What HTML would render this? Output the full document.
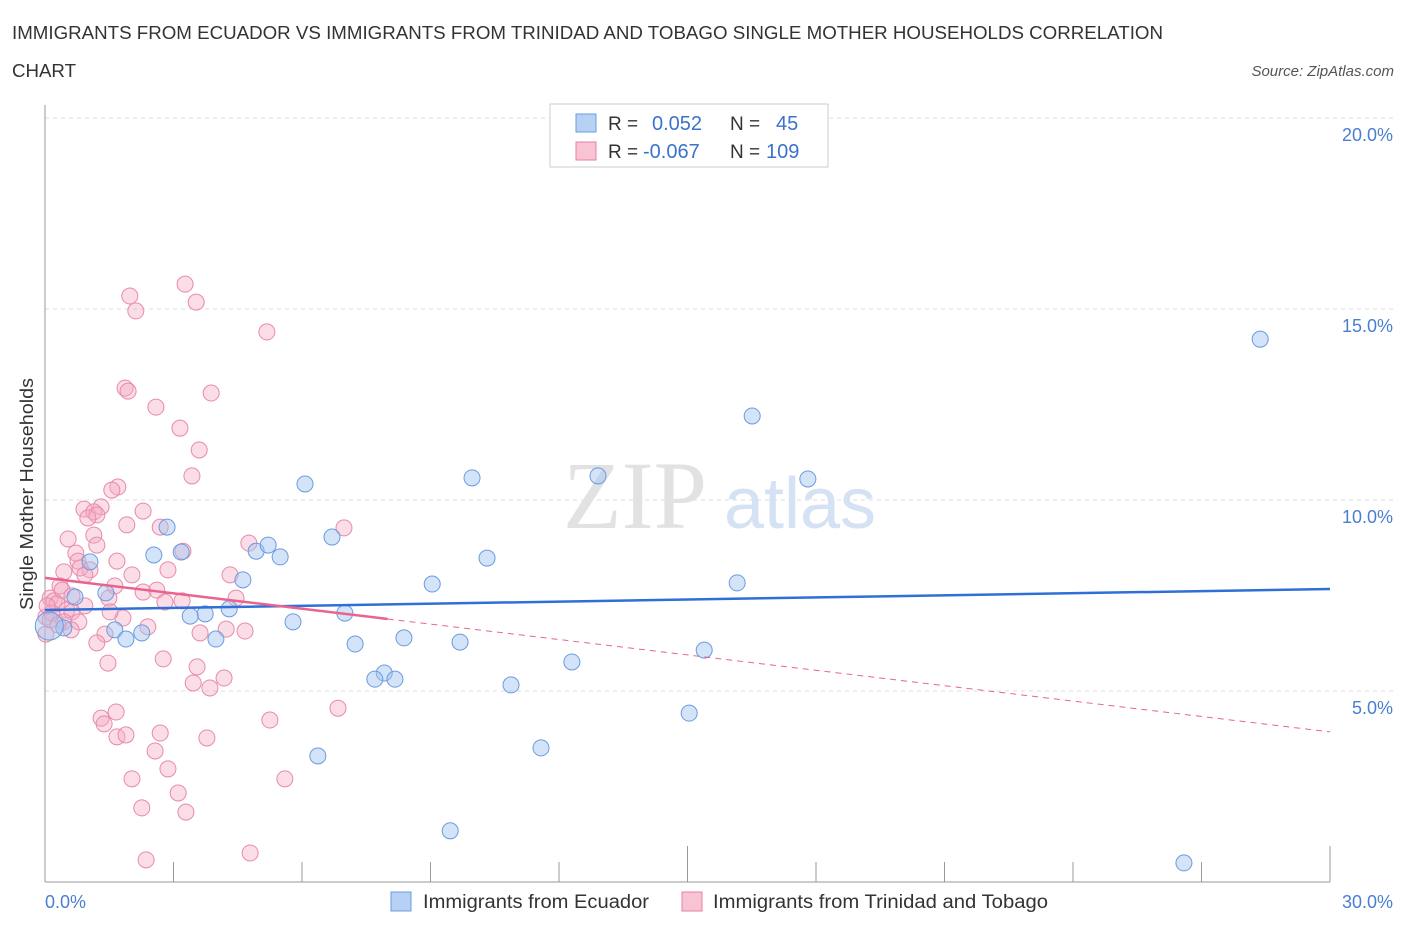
<!DOCTYPE html>
<html><head><meta charset="utf-8"><style>
body{margin:0;background:#fff;font-family:"Liberation Sans",sans-serif;}
</style></head><body>
<svg width="1406" height="930" viewBox="0 0 1406 930" xmlns="http://www.w3.org/2000/svg">
<text x="12" y="39" font-size="18" fill="#333" textLength="1151" lengthAdjust="spacingAndGlyphs">IMMIGRANTS FROM ECUADOR VS IMMIGRANTS FROM TRINIDAD AND TOBAGO SINGLE MOTHER HOUSEHOLDS CORRELATION</text>
<text x="12" y="77" font-size="18" fill="#333" textLength="64" lengthAdjust="spacingAndGlyphs">CHART</text>
<text x="1394" y="76" font-size="15" fill="#555" font-style="italic" text-anchor="end">Source: ZipAtlas.com</text>
<g id="grid"></g>
<text x="635" y="528" font-size="96" fill="#e2e2e2" font-family="Liberation Serif" text-anchor="middle">ZIP</text>
<text x="800" y="528" font-size="72" fill="#d4e2f4" text-anchor="middle">atlas</text>
<g id="marks"></g>
<text x="33" y="494" font-size="18" fill="#333" text-anchor="middle" textLength="232" lengthAdjust="spacingAndGlyphs" transform="rotate(-90 33 494)">Single Mother Households</text>
<g>
<rect x="550" y="104" width="278" height="63" fill="#fff" stroke="#ccc"/>
<rect x="576" y="114" width="20" height="18" fill="#b7d1f5" stroke="#6a9be0"/>
<text x="608" y="130" font-size="19" fill="#333">R =</text><text x="652" y="130" font-size="20" fill="#3b73cc">0.052</text>
<text x="730" y="130" font-size="19" fill="#333">N =</text><text x="776" y="130" font-size="20" fill="#3b73cc">45</text>
<rect x="576" y="142" width="20" height="18" fill="#f8c4d4" stroke="#e87fa3"/>
<text x="608" y="158" font-size="19" fill="#333">R =</text><text x="643" y="158" font-size="20" fill="#3b73cc">-0.067</text>
<text x="730" y="158" font-size="19" fill="#333">N =</text><text x="766" y="158" font-size="20" fill="#3b73cc">109</text>
</g>
<g>
<rect x="391" y="892" width="20" height="19" fill="#b7d1f5" stroke="#6a9be0"/>
<text x="423" y="908" font-size="19" fill="#333" textLength="226" lengthAdjust="spacingAndGlyphs">Immigrants from Ecuador</text>
<rect x="682" y="892" width="20" height="19" fill="#f8c4d4" stroke="#e87fa3"/>
<text x="713" y="908" font-size="19" fill="#333" textLength="335" lengthAdjust="spacingAndGlyphs">Immigrants from Trinidad and Tobago</text>
</g>
</svg>
<script>
const xTicks=[0,30];
const yTicks=[5,10,15,20];
const blueX=[28.37,16.51,17.81,12.91,9.97,6.07,2.85,6.70,3.18,2.54,4.93,5.21,5.49,10.32,9.04,16.16,4.62,1.42,0.70,7.00,3.74,3.39,4.30,5.79,1.05,1.63,2.26,1.89,3.99,8.38,7.24,9.69,0.44,15.39,12.30,7.92,7.70,8.17,10.88,15.04,11.58,6.37,9.46,26.59,0.1];
const blueY=[14.21,12.20,10.55,10.63,10.58,10.42,9.29,9.03,8.64,8.56,8.66,8.82,8.51,8.48,7.80,7.83,7.91,7.57,7.46,7.04,7.02,6.96,7.15,6.81,8.38,6.60,6.52,6.36,6.36,6.39,6.23,6.28,6.65,6.07,5.76,5.47,5.31,5.31,5.16,4.42,3.51,3.30,1.34,0.50,6.7];
const pinkX=[3.27,1.98,3.53,2.12,5.18,1.87,1.94,3.88,2.59,3.15,3.60,3.43,1.70,1.56,2.29,0.91,1.31,1.14,1.21,1.00,1.91,2.69,6.98,0.54,1.14,4.76,1.21,0.72,3.22,0.77,1.68,0.82,1.05,0.44,0.93,2.03,4.32,2.87,0.35,1.63,2.29,2.61,4.46,1.49,3.20,2.80,0.12,0.21,0.28,0.93,0.51,0.63,0.16,0.02,0.12,1.82,1.52,0.44,0.79,0.30,0.61,2.40,4.67,4.23,3.62,1.40,0.02,1.21,1.47,2.76,3.55,4.18,3.46,3.85,6.84,1.31,5.25,1.38,1.66,1.68,1.89,2.69,3.78,2.57,2.87,2.03,5.60,3.11,2.26,3.29,2.36,4.79,0.40,0.63,0.05];
const pinkY=[15.65,15.34,15.18,14.95,14.40,12.93,12.85,12.80,12.43,11.88,11.31,10.63,10.34,10.26,9.71,9.76,9.82,9.69,9.61,9.53,9.35,9.29,9.27,8.98,9.08,8.87,8.82,8.61,8.66,8.40,8.40,8.22,8.17,8.12,8.04,8.04,8.04,8.17,7.75,7.75,7.59,7.64,7.43,7.43,7.36,7.33,7.43,7.36,7.28,7.23,7.12,7.07,7.04,6.94,6.86,6.91,7.07,6.81,6.81,6.73,6.60,6.68,6.57,6.62,6.52,6.49,6.49,6.26,5.73,5.84,5.63,5.34,5.21,5.08,4.55,4.29,4.24,4.14,4.45,3.80,3.85,3.90,3.77,3.43,2.96,2.70,2.70,2.33,1.94,1.83,0.58,0.76,7.64,7.49,7.23];
const blueTrend=[7.12,7.67];
const pinkTrend=[7.96,3.93];
const pinkSolidEnd=8.0;
const NS='http://www.w3.org/2000/svg';
const X=v=>45+v*1285/30;
const Y=v=>882-v*38.2;
function mk(tag,attrs,parent){const e=document.createElementNS(NS,tag);for(const k in attrs)e.setAttribute(k,attrs[k]);parent.appendChild(e);return e;}
const grid=document.getElementById('grid');
yTicks.forEach(t=>{
 const l=mk('line',{x1:45,x2:1394,y1:Y(t),y2:Y(t),stroke:'#ddd','stroke-dasharray':'4,4'},grid);
 
 
 const tx=mk('text',{x:1393,y:Y(t)+23,'font-size':18,fill:'#4a7fd0','text-anchor':'end'},grid);
 tx.textContent=t.toFixed(1)+'%';
 
 
});
const ax=mk('line',{x1:45,x2:45,y1:105,y2:882,stroke:'#999'},grid);


const bx=mk('line',{x1:45,x2:1330,y1:882,y2:882,stroke:'#999'},grid);


for(let i=1;i<=10;i++){
 const tk=mk('line',{x1:X(i*3),x2:X(i*3),y1:i%5==0?846:862,y2:882,stroke:'#999'},grid);
 
 
}
xTicks.forEach((t,i)=>{
 const tx=mk('text',{x:i==0?45:1393,y:908,'font-size':18,fill:'#4a7fd0','text-anchor':i==0?'start':'end'},grid);
 tx.textContent=t.toFixed(1)+'%';
 
 
});
const marks=document.getElementById('marks');
pinkX.forEach((x,i)=>{
 const c=mk('circle',{cx:X(x),cy:Y(pinkY[i]),r:8,fill:'rgba(244,170,196,0.4)',stroke:'#e88aaa','stroke-width':1},marks);
 
 
});
blueX.forEach((x,i)=>{
 const c=mk('circle',{cx:X(x),cy:Y(blueY[i]),r:i==blueX.length-1?14:8,fill:'rgba(160,195,240,0.45)',stroke:'#6a9be0','stroke-width':1},marks);
 
 
});
const bt=mk('line',{x1:X(0),y1:Y(blueTrend[0]),x2:X(30),y2:Y(blueTrend[1]),stroke:'#2f6fd6','stroke-width':2.5},marks);


const pY=x=>pinkTrend[0]+(pinkTrend[1]-pinkTrend[0])*x/30;
const ps=mk('line',{x1:X(0),y1:Y(pY(0)),x2:X(pinkSolidEnd),y2:Y(pY(pinkSolidEnd)),stroke:'#e8648e','stroke-width':2.5},marks);


const pd=mk('line',{x1:X(pinkSolidEnd),y1:Y(pY(pinkSolidEnd)),x2:X(30),y2:Y(pY(30)),stroke:'#e8648e','stroke-width':1,'stroke-dasharray':'6,5'},marks);


</script>
</body></html>
